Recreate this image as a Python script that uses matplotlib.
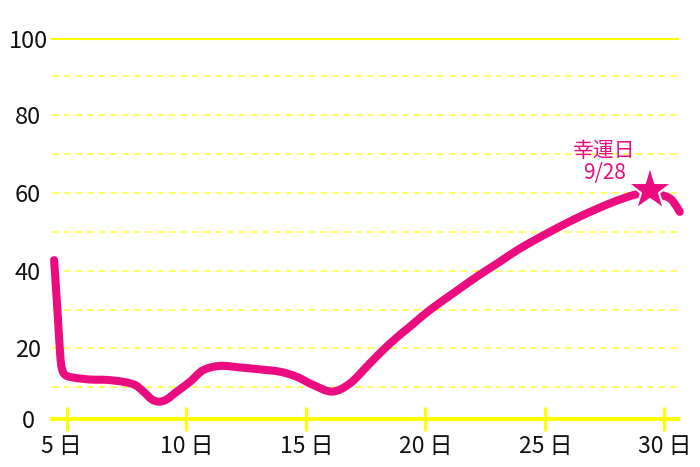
import matplotlib
matplotlib.use('Agg')
import matplotlib.pyplot as plt
from matplotlib.path import Path
from matplotlib.patches import PathPatch
from matplotlib.transforms import ScaledTranslation

plt.rcParams['font.family'] = ['Noto Sans CJK JP', 'DejaVu Sans']

# fortune curve (day of month, score)
days = [4.46, 4.59, 4.71, 4.78, 4.92, 5.26, 5.96, 6.66, 7.36, 7.85, 8.2, 8.55,
        8.85, 9.18, 9.6, 10.15, 10.7, 11.41, 12.24, 13.08, 13.92, 14.62, 15.31,
        16.1, 16.85, 17.69, 18.53, 19.36, 20.2, 21.18, 22.15, 23.13, 23.97,
        25.23, 26.48, 27.74, 28.71, 29.4, 30.11, 30.39, 30.66]
fortune = [42.7, 30.7, 18.8, 15.0, 13.2, 12.5, 12.0, 11.9, 11.4, 10.6, 8.9, 6.9,
           6.3, 6.9, 8.9, 11.4, 14.4, 15.5, 15.1, 14.6, 14.0, 12.7, 10.6,
           8.9, 11.0, 16.2, 21.3, 25.6, 29.9, 34.2, 38.4, 42.3, 45.7,
           50.0, 53.9, 57.3, 59.4, 60.0, 59.0, 57.7, 55.1]

lucky_day = (29.41, 60.8)
lucky_text = '幸運日\n9/28'

x_ticks = [5, 10, 15, 20, 25, 30]
x_labels = ['5 日', '10 日', '15 日', '20 日', '25 日', '30 日']
y_ticks = [20, 40, 60, 80]
y_labels = ['0', '20', '40', '60', '80', '100']
grid_levels = [10, 20, 30, 40, 50, 60, 70, 80, 90]

PINK = '#eb0c80'
YELLOW = '#ffff00'
PALE_YELLOW = '#ffff66'


def smooth_path(xs, ys):
    # catmull-rom segments written as cubic beziers, so the line is drawn smooth
    pts = list(zip(xs, ys))
    verts = [pts[0]]
    codes = [Path.MOVETO]
    n = len(pts)
    for i in range(n - 1):
        p0 = pts[max(i - 1, 0)]
        p1 = pts[i]
        p2 = pts[i + 1]
        p3 = pts[min(i + 2, n - 1)]
        c1 = (p1[0] + (p2[0] - p0[0]) / 6, p1[1] + (p2[1] - p0[1]) / 6)
        c2 = (p2[0] - (p3[0] - p1[0]) / 6, p2[1] - (p3[1] - p1[1]) / 6)
        verts += [c1, c2, p2]
        codes += [Path.CURVE4] * 3
    return Path(verts, codes)


fig = plt.figure(figsize=(7, 4.67), dpi=100)
ax = fig.add_axes([52 / 700, 47.7 / 467, 626 / 700, 380.1 / 467])

y_lo, y_hi = 1.77, 99.5
ax.set_xlim(4.372, 30.586)
ax.set_ylim(y_lo, y_hi)

for lvl in grid_levels:
    ax.axhline(lvl, color=PALE_YELLOW, lw=1.4, linestyle=(0, (3.6, 2.4)), zorder=1)

for side in ['left', 'right']:
    ax.spines[side].set_visible(False)
ax.spines['top'].set_color(YELLOW)
ax.spines['top'].set_linewidth(1.5)
ax.spines['bottom'].set_color(YELLOW)
ax.spines['bottom'].set_linewidth(3)

ax.set_xticks(x_ticks)
ax.set_xticklabels(x_labels, ha='left', fontsize=16.5, color='#111111')
ax.tick_params(axis='x', direction='inout', length=17, width=2.2, color=YELLOW, pad=3)
offset = ScaledTranslation(-0.26, 0, fig.dpi_scale_trans)
for lab in ax.get_xticklabels():
    lab.set_transform(lab.get_transform() + offset)

ax.set_yticks([y_lo] + y_ticks + [y_hi])
ax.set_yticklabels(y_labels, ha='center', fontsize=17, color='#111111')
ax.tick_params(axis='y', length=0, pad=17.3)

curve = PathPatch(smooth_path(days, fortune), facecolor='none', edgecolor=PINK, lw=5.8,
                  capstyle='round', joinstyle='round', clip_on=False, zorder=3)
ax.add_patch(curve)
ax.plot(*lucky_day, marker='*', markersize=34, color=PINK,
        markeredgecolor='white', markeredgewidth=1.5, clip_on=False, zorder=4)
ax.annotate(lucky_text, xy=lucky_day, xytext=(-33, 20), textcoords='offset points',
            ha='center', va='center', fontsize=15, color=PINK,
            linespacing=1.0, zorder=5)

fig.savefig('out.png', dpi=100)
